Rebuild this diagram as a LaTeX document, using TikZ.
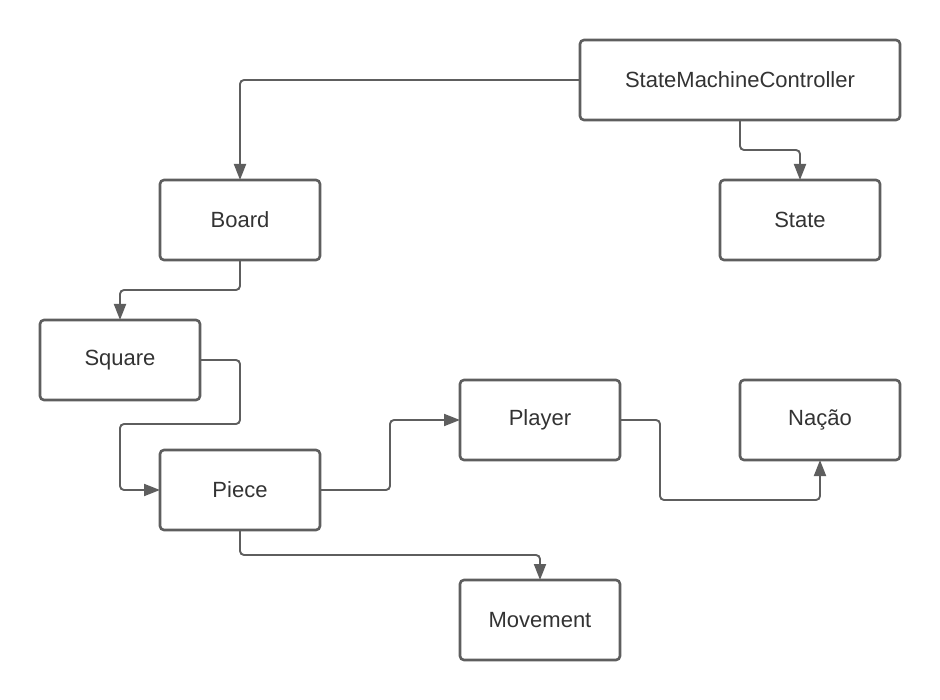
\documentclass[tikz,border=0pt]{standalone}
\usepackage{fontspec}
\setmainfont{Liberation Sans}
\usetikzlibrary{arrows.meta}
\definecolor{strokegray}{HTML}{5E5E5E}
\definecolor{textgray}{HTML}{333333}
\tikzset{
  box/.style={draw=strokegray, line width=2.6pt, rounded corners=4pt, fill=white,
    minimum width=160pt, minimum height=80pt, inner sep=0pt, outer sep=0pt,
    text=textgray, font=\fontsize{22pt}{26pt}\selectfont},
  conn/.style={draw=strokegray, line width=1.9pt, rounded corners=4pt,
    -{Triangle[length=16pt,width=12pt]}},
}
\begin{document}
\begin{tikzpicture}[x=1pt,y=-1pt]
\useasboundingbox (0,0) rectangle (940,700);
\fill[white] (0,0) rectangle (940,700);
\node[box, minimum width=320pt] (smc) at (740,80) {StateMachineController};
\node[box] (board) at (240,220) {Board};
\node[box] (state) at (800,220) {State};
\node[box] (square) at (120,360) {Square};
\node[box] (piece) at (240,490) {Piece};
\node[box] (player) at (540,420) {Player};
\node[box] (nacao) at (820,420) {Nação};
\node[box] (movement) at (540,620) {Movement};
\coordinate (c0) at (740,150);
\coordinate (c6) at (240,290);
\coordinate (c1) at (240,424);
\coordinate (c2) at (120,424);
\coordinate (c3) at (390,490);
\coordinate (c4) at (660,500);
\coordinate (c5) at (240,555);
\draw[conn] (smc.west) -| (board.north);
\draw[conn] (smc.south) -- (c0) -| (state.north);
\draw[conn] (board.south) -- (c6) -| (square.north);
\draw[conn] (square.east) -| (c1) -- (c2) |- (piece.west);
\draw[conn] (piece.east) -- (c3) |- (player.west);
\draw[conn] (player.east) -| (c4) -| (nacao.south);
\draw[conn] (piece.south) -- (c5) -| (movement.north);
\end{tikzpicture}
\end{document}
